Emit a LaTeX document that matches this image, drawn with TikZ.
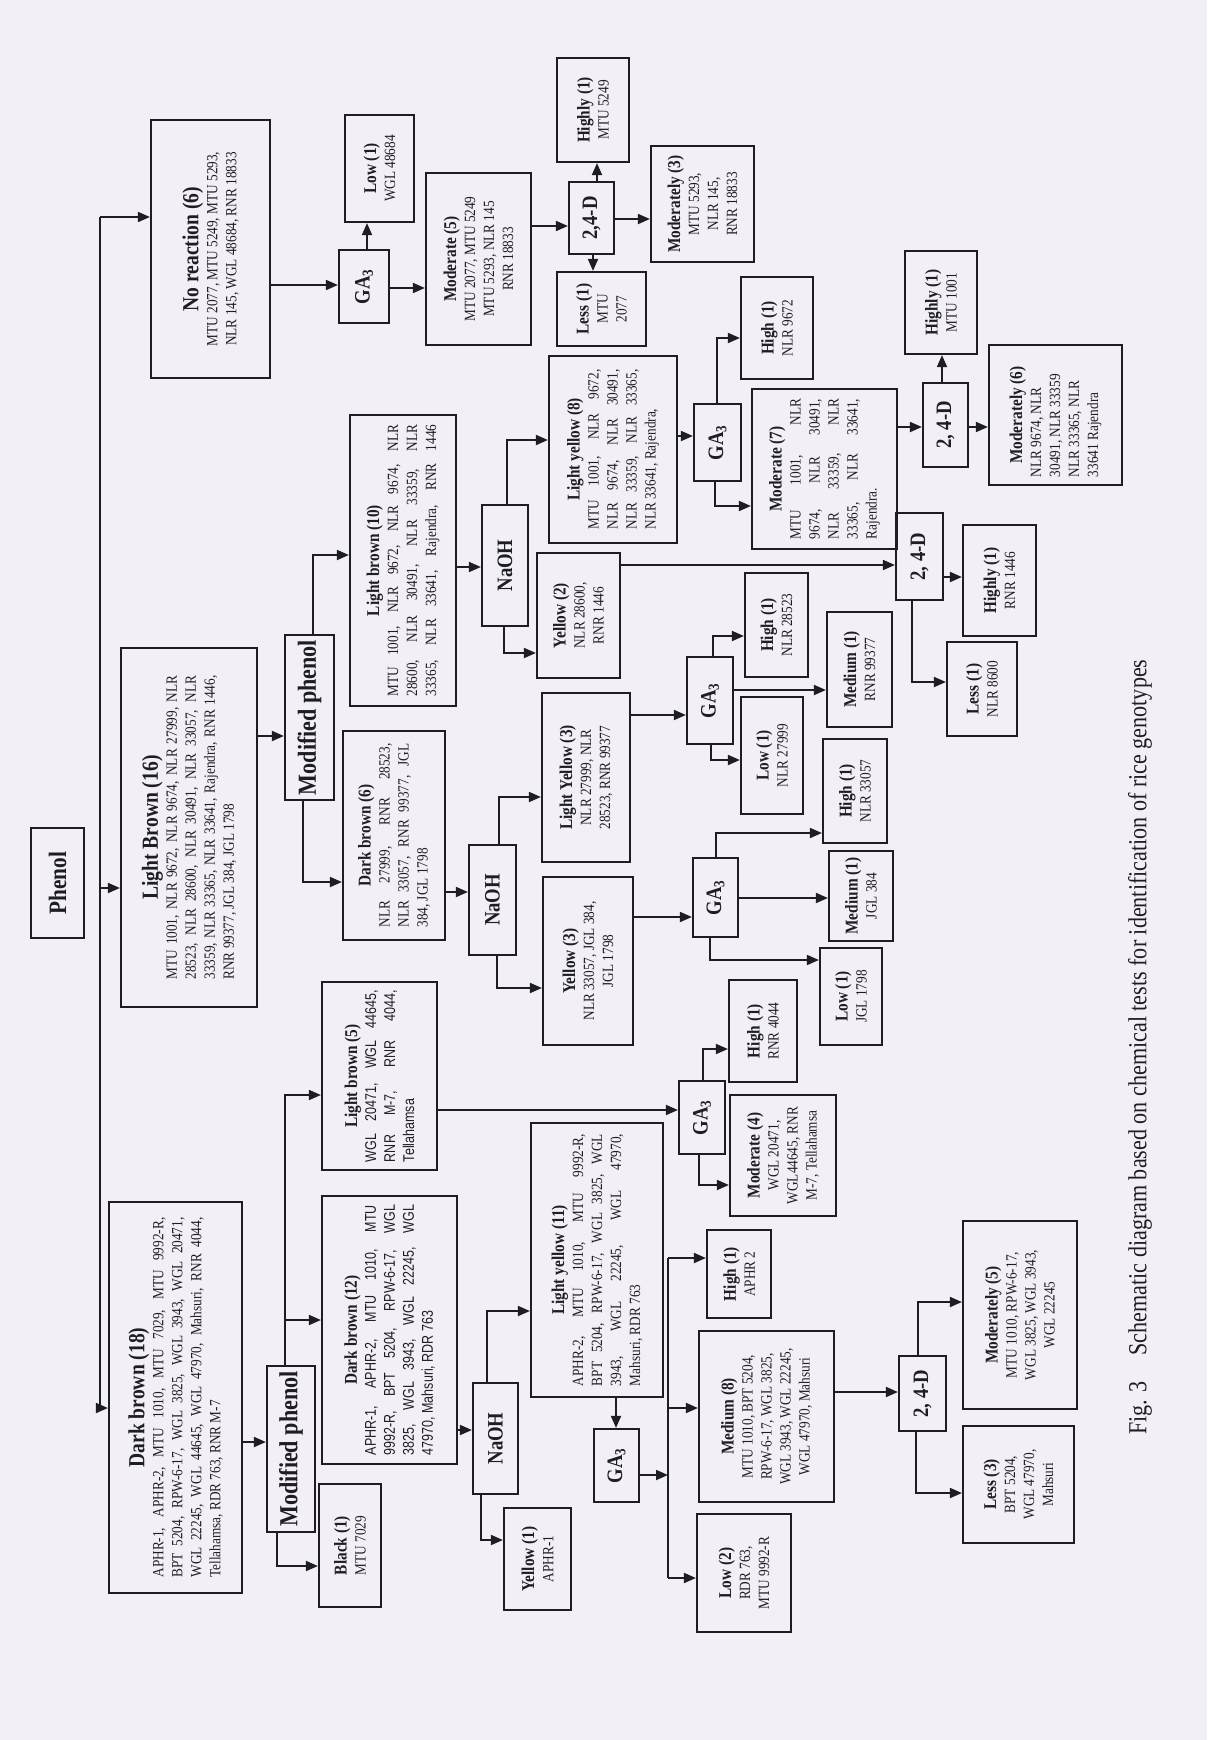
\documentclass[tikz,border=0pt]{standalone}
\usepackage{graphicx}
\usepackage{fontspec}
\setmainfont{Liberation Serif}[FakeStretch=0.85]
\newfontfamily\narrowsans{Liberation Sans}[FakeStretch=0.8]
\usetikzlibrary{arrows.meta}
\definecolor{ink}{RGB}{30,30,34}
\definecolor{paper}{RGB}{242,239,246}
\newcommand{\bodyf}{\fontsize{7.8}{9.5}\selectfont}
\newcommand{\hd}[1]{{\fontsize{9}{11}\selectfont\bfseries #1\par}}
\newcommand{\bighd}[1]{{\fontsize{11.5}{14}\selectfont\bfseries #1\par}}
\newcommand{\vmid}[1]{\raisebox{-0.5\height}{\rotatebox{90}{#1}}}
\newcommand{\opf}[1]{\vmid{\fontsize{11}{13}\selectfont\bfseries #1}}
\newcommand{\mpf}[1]{\vmid{\fontsize{13}{15}\selectfont\bfseries #1}}
\newcommand{\vlab}[2]{\vmid{\parbox{#1}{\centering\bodyf #2}}}
\newcommand{\jl}[1]{\makebox[\linewidth][s]{#1}}
\newcommand{\jlast}[1]{\makebox[\linewidth][l]{#1}}
\newcommand{\ganame}{GA\textsubscript{3}}
\tikzset{
  box/.style={draw=ink, line width=1.1pt, inner sep=0pt, text=ink},
  spans/.style n args={4}{at={({(#1+#3)/2},{(#2+#4)/2})}, minimum width={(#3-#1)*0.5pt}, minimum height={(#4-#2)*0.5pt}},
  arr/.style={draw=ink, line width=0.9pt, -{Triangle[length=6pt,width=5pt]}},
  ln/.style={draw=ink, line width=0.9pt},
}
\begin{document}
\begin{tikzpicture}[x=0.5pt,y=-0.5pt]
  \fill[paper] (0,0) rectangle (1207,1740);
  \useasboundingbox (0,0) rectangle (1207,1740);

  \node[box, spans={31}{828}{84}{938}] (phenol) {\vmid{\fontsize{12.5}{14}\selectfont\bfseries Phenol}};

  \node[box, spans={151}{120}{270}{378}] (noreact) {\vlab{124pt}{\bighd{No reaction (6)}MTU 2077, MTU 5249, MTU 5293,\\NLR 145, WGL 48684, RNR 18833}};
  \node[box, spans={339}{250}{389}{323}] (gaA) {\opf{\ganame}};
  \node[box, spans={345}{115}{414}{222}] (lowA) {\vlab{48pt}{\hd{Low (1)}WGL 48684}};
  \node[box, spans={426}{173}{531}{345}] (modA) {\vlab{82pt}{\hd{Moderate (5)}MTU 2077, MTU 5249\\MTU 5293, NLR 145\\RNR 18833}};
  \node[box, spans={569}{182}{614}{254}] (dA) {\opf{2,4-D}};
  \node[box, spans={557}{58}{629}{162}] (hiA) {\vlab{48pt}{\hd{Highly (1)}MTU 5249}};
  \node[box, spans={557}{272}{646}{346}] (lessA) {\vlab{34pt}{\hd{Less (1)}MTU\\2077}};
  \node[box, spans={651}{146}{754}{262}] (mdlyA) {\vlab{54pt}{\hd{Moderately (3)}MTU 5293,\\NLR 145,\\RNR 18833}};

  \node[box, spans={121}{648}{257}{1007}] (lb16) {\vlab{152pt}{\bighd{Light Brown (16)}\jl{MTU 1001, NLR 9672, NLR 9674, NLR 27999, NLR}\\\jl{28523, NLR 28600, NLR 30491, NLR 33057, NLR}\\\jl{33359, NLR 33365, NLR 33641, Rajendra, RNR 1446,}\\\jlast{RNR 99377, JGL 384, JGL 1798}}};
  \node[box, spans={285}{635}{334}{800}] (mpA) {\mpf{Modified phenol}};
  \node[box, spans={350}{415}{456}{706}] (lb10) {\vlab{136pt}{\hd{Light brown (10)}\jl{MTU 1001, NLR 9672, NLR 9674, NLR}\\\jl{28600, NLR 30491, NLR 33359, NLR}\\\jl{33365, NLR 33641, Rajendra, RNR 1446}}};
  \node[box, spans={343}{731}{445}{940}] (db6) {\vlab{92pt}{\hd{Dark brown (6)}\jl{NLR 27999, RNR 28523,}\\\jl{NLR 33057, RNR 99377, JGL}\\\jlast{384, JGL 1798}}};
  \node[box, spans={482}{505}{528}{626}] (nA) {\opf{NaOH}};
  \node[box, spans={549}{356}{677}{543}] (ly8) {\vlab{80pt}{\hd{Light yellow (8)}\jl{MTU 1001, NLR 9672,}\\\jl{NLR 9674, NLR 30491,}\\\jl{NLR 33359, NLR 33365,}\\\jlast{NLR 33641, Rajendra,}}};
  \node[box, spans={537}{553}{620}{678}] (y2) {\vlab{56pt}{\hd{Yellow (2)}NLR 28600,\\RNR 1446}};
  \node[box, spans={694}{404}{741}{481}] (gB) {\opf{\ganame}};
  \node[box, spans={741}{277}{813}{379}] (hi9672) {\vlab{46pt}{\hd{High (1)}NLR 9672}};
  \node[box, spans={752}{389}{897}{549}] (mod7) {\vlab{70pt}{\hd{Moderate (7)}\jl{MTU 1001, NLR}\\\jl{9674, NLR 30491,}\\\jl{NLR 33359, NLR}\\\jl{33365, NLR 33641,}\\\jlast{Rajendra.}}};
  \node[box, spans={923}{383}{968}{467}] (dB) {\opf{2, 4-D}};
  \node[box, spans={905}{251}{977}{354}] (hiB) {\vlab{46pt}{\hd{Highly (1)}MTU 1001}};
  \node[box, spans={989}{345}{1122}{485}] (mdly6) {\vlab{62pt}{\hd{Moderately (6)}\raggedright NLR 9674, NLR\\30491, NLR 33359\\NLR 33365, NLR\\33641 Rajendra}};
  \node[box, spans={896}{513}{943}{600}] (dC) {\opf{2, 4-D}};
  \node[box, spans={963}{525}{1036}{636}] (hiC) {\vlab{50pt}{\hd{Highly (1)}RNR 1446}};
  \node[box, spans={947}{642}{1017}{736}] (lessC) {\vlab{42pt}{\hd{Less (1)}NLR 8600}};
  \node[box, spans={469}{845}{516}{955}] (nB) {\opf{NaOH}};
  \node[box, spans={542}{693}{630}{862}] (ly3) {\vlab{78pt}{\hd{Light Yellow (3)}NLR 27999, NLR\\28523, RNR 99377}};
  \node[box, spans={543}{877}{633}{1045}] (y3) {\vlab{78pt}{\hd{Yellow (3)}NLR 33057, JGL 384,\\JGL 1798}};
  \node[box, spans={687}{657}{733}{744}] (gC) {\opf{\ganame}};
  \node[box, spans={745}{573}{808}{677}] (hi28523) {\vlab{46pt}{\hd{High (1)}NLR 28523}};
  \node[box, spans={741}{697}{803}{814}] (low27999) {\vlab{52pt}{\hd{Low (1)}NLR 27999}};
  \node[box, spans={827}{612}{892}{727}] (med99377) {\vlab{52pt}{\hd{Medium (1)}RNR 99377}};
  \node[box, spans={693}{858}{738}{937}] (gD) {\opf{\ganame}};
  \node[box, spans={823}{739}{887}{843}] (hi33057) {\vlab{46pt}{\hd{High (1)}NLR 33057}};
  \node[box, spans={829}{851}{893}{941}] (med384) {\vlab{40pt}{\hd{Medium (1)}JGL 384}};
  \node[box, spans={820}{948}{882}{1045}] (low1798) {\vlab{44pt}{\hd{Low (1)}JGL 1798}};

  \node[box, spans={109}{1202}{242}{1593}] (db18) {\vlab{180pt}{\bighd{Dark brown (18)}\jl{APHR-1, APHR-2, MTU 1010, MTU 7029, MTU 9992-R,}\\\jl{BPT 5204, RPW-6-17, WGL 3825, WGL 3943, WGL 20471,}\\\jl{WGL 22245, WGL 44645, WGL 47970, Mahsuri, RNR 4044,}\\\jlast{Tellahamsa, RDR 763, RNR M-7}}};
  \node[box, spans={267}{1366}{315}{1532}] (mpB) {\mpf{Modified phenol}};
  \node[box, spans={322}{982}{437}{1170}] (lb5) {\vlab{86pt}{\hd{Light brown (5)}\narrowsans\jl{WGL 20471, WGL 44645,}\\\jl{RNR M-7, RNR 4044,}\\\jlast{Tellahamsa}}};
  \node[box, spans={322}{1196}{457}{1464}] (db12) {\vlab{125pt}{\hd{Dark brown (12)}\narrowsans\jl{APHR-1, APHR-2, MTU 1010, MTU}\\\jl{9992-R, BPT 5204, RPW-6-17, WGL}\\\jl{3825, WGL 3943, WGL 22245, WGL}\\\jlast{47970, Mahsuri, RDR 763}}};
  \node[box, spans={319}{1484}{381}{1607}] (blk) {\vlab{54pt}{\hd{Black (1)}MTU 7029}};
  \node[box, spans={679}{1081}{725}{1154}] (gE) {\opf{\ganame}};
  \node[box, spans={729}{980}{797}{1082}] (hi4044) {\vlab{46pt}{\hd{High (1)}RNR 4044}};
  \node[box, spans={730}{1095}{836}{1216}] (mod4) {\vlab{56pt}{\hd{Moderate (4)}WGL 20471,\\WGL44645, RNR\\M-7, Tellahamsa}};
  \node[box, spans={473}{1383}{518}{1494}] (nC) {\opf{NaOH}};
  \node[box, spans={531}{1123}{663}{1397}] (ly11) {\vlab{126pt}{\hd{Light yellow (11)}\jl{APHR-2, MTU 1010, MTU 9992-R,}\\\jl{BPT 5204, RPW-6-17, WGL 3825, WGL}\\\jl{3943, WGL 22245, WGL 47970,}\\\jlast{Mahsuri, RDR 763}}};
  \node[box, spans={504}{1508}{571}{1610}] (y1) {\vlab{46pt}{\hd{Yellow (1)}APHR-1}};
  \node[box, spans={594}{1429}{639}{1502}] (gF) {\opf{\ganame}};
  \node[box, spans={707}{1230}{771}{1318}] (hiAPHR) {\vlab{40pt}{\hd{High (1)}APHR 2}};
  \node[box, spans={699}{1331}{834}{1502}] (med8) {\vlab{80pt}{\hd{Medium (8)}MTU 1010, BPT 5204,\\RPW-6-17, WGL 3825,\\WGL 3943, WGL 22245,\\WGL 47970, Mahsuri}};
  \node[box, spans={697}{1514}{791}{1632}] (low2) {\vlab{54pt}{\hd{Low (2)}RDR 763,\\MTU 9992-R}};
  \node[box, spans={899}{1356}{946}{1431}] (dD) {\opf{2, 4-D}};
  \node[box, spans={963}{1221}{1077}{1409}] (mdly5) {\vlab{86pt}{\hd{Moderately (5)}MTU 1010, RPW-6-17,\\WGL 3825, WGL 3943,\\WGL 22245}};
  \node[box, spans={963}{1426}{1074}{1543}] (less3) {\vlab{52pt}{\hd{Less (3)}BPT 5204,\\WGL 47970,\\Mahsuri}};

  \node[rotate=90, anchor=west, text=ink, font=\fontsize{13}{15}\selectfont] (caption) at (1140,1442) {Fig. 3\quad Schematic diagram based on chemical tests for identification of rice genotypes};

  \coordinate (trunk) at (100,888);
  \draw[ln] (trunk |- 0,217) -- (trunk |- 0,1408);
  \draw[arr] (trunk |- 0,217) -- (noreact.west |- 0,217);
  \draw[arr] (trunk) -- (lb16.west |- trunk);
  \draw[arr] (trunk |- 0,1408) -- (db18.west |- 0,1408);

  \draw[arr] (noreact.east |- 0,285) -- (gaA.west |- 0,285);
  \draw[arr] (gaA.north -| 367,0) -- (lowA.south -| 367,0);
  \draw[arr] (gaA.east |- 0,288) -- (modA.west |- 0,288);
  \draw[arr] (modA.east |- 0,226) -- (dA.west |- 0,226);
  \draw[arr] (dA.north -| 597,0) -- (hiA.south -| 597,0);
  \draw[arr] (dA.south -| 593,0) -- (lessA.north -| 593,0);
  \draw[arr] (dA.east |- 0,219) -- (mdlyA.west |- 0,219);

  \draw[arr] (lb16.east |- 0,736) -- (mpA.west |- 0,736);
  \draw[arr] (mpA.north -| 313,0) |- (lb10.west |- 0,555);
  \draw[arr] (mpA.south -| 303,0) |- (db6.west |- 0,882);
  \draw[arr] (lb10.east |- 0,567) -- (nA.west |- 0,567);
  \draw[arr] (nA.north -| 507,0) |- (ly8.west |- 0,440);
  \draw[arr] (nA.south -| 504,0) |- (y2.west |- 0,653);
  \draw[arr] (ly8.east |- 0,436) -- (gB.west |- 0,436);
  \draw[arr] (gB.north -| 717,0) |- (hi9672.west |- 0,338);
  \draw[arr] (gB.south -| 715,0) |- (mod7.west |- 0,506);
  \draw[arr] (mod7.east |- 0,427) -- (dB.west |- 0,427);
  \draw[arr] (dB.north -| 942,0) -- (hiB.south -| 942,0);
  \draw[arr] (dB.east |- 0,427) -- (mdly6.west |- 0,427);
  \draw[arr] (y2.east |- 0,565) -- (dC.west |- 0,565);
  \draw[arr] (dC.east |- 0,577) -- (hiC.west |- 0,577);
  \draw[arr] (dC.south -| 912,0) |- (lessC.west |- 0,682);
  \draw[arr] (db6.east |- 0,892) -- (nB.west |- 0,892);
  \draw[arr] (nB.north -| 499,0) |- (ly3.west |- 0,797);
  \draw[arr] (nB.south -| 497,0) |- (y3.west |- 0,988);
  \draw[arr] (ly3.east |- 0,715) -- (gC.west |- 0,715);
  \draw[arr] (gC.north -| 713,0) |- (hi28523.west |- 0,636);
  \draw[arr] (gC.south -| 711,0) |- (low27999.west |- 0,760);
  \draw[arr] (gC.east |- 0,690) -- (med99377.west |- 0,690);
  \draw[arr] (y3.east |- 0,917) -- (gD.west |- 0,917);
  \draw[arr] (gD.north -| 716,0) |- (hi33057.west |- 0,833);
  \draw[arr] (gD.east |- 0,898) -- (med384.west |- 0,898);
  \draw[arr] (gD.south -| 710,0) |- (low1798.west |- 0,960);

  \draw[arr] (db18.east |- 0,1442) -- (mpB.west |- 0,1442);
  \draw[arr] (mpB.north -| 285,0) |- (lb5.west |- 0,1095);
  \draw[arr] (mpB.north -| 285,0) |- (db12.west |- 0,1320);
  \draw[arr] (mpB.south -| 277,0) |- (blk.west |- 0,1566);
  \draw[arr] (lb5.east |- 0,1110) -- (gE.west |- 0,1110);
  \draw[arr] (gE.north -| 703,0) |- (hi4044.west |- 0,1049);
  \draw[arr] (gE.south -| 699,0) |- (mod4.west |- 0,1185);
  \draw[arr] (db12.east |- 0,1430) -- (nC.west |- 0,1430);
  \draw[arr] (nC.north -| 487,0) |- (ly11.west |- 0,1311);
  \draw[arr] (nC.south -| 481,0) |- (y1.west |- 0,1540);
  \draw[arr] (ly11.south -| 616,0) -- (gF.north -| 616,0);
  \coordinate (bus) at (668,1475);
  \draw[arr] (gF.east |- bus) -- (bus);
  \draw[ln] (bus |- 0,1258) -- (bus |- 0,1578);
  \draw[arr] (bus |- 0,1258) -- (hiAPHR.west |- 0,1258);
  \draw[arr] (bus |- 0,1408) -- (med8.west |- 0,1408);
  \draw[arr] (bus |- 0,1578) -- (low2.west |- 0,1578);
  \draw[arr] (med8.east |- 0,1392) -- (dD.west |- 0,1392);
  \draw[arr] (dD.north -| 918,0) |- (mdly5.west |- 0,1302);
  \draw[arr] (dD.south -| 916,0) |- (less3.west |- 0,1493);
\end{tikzpicture}
\end{document}
